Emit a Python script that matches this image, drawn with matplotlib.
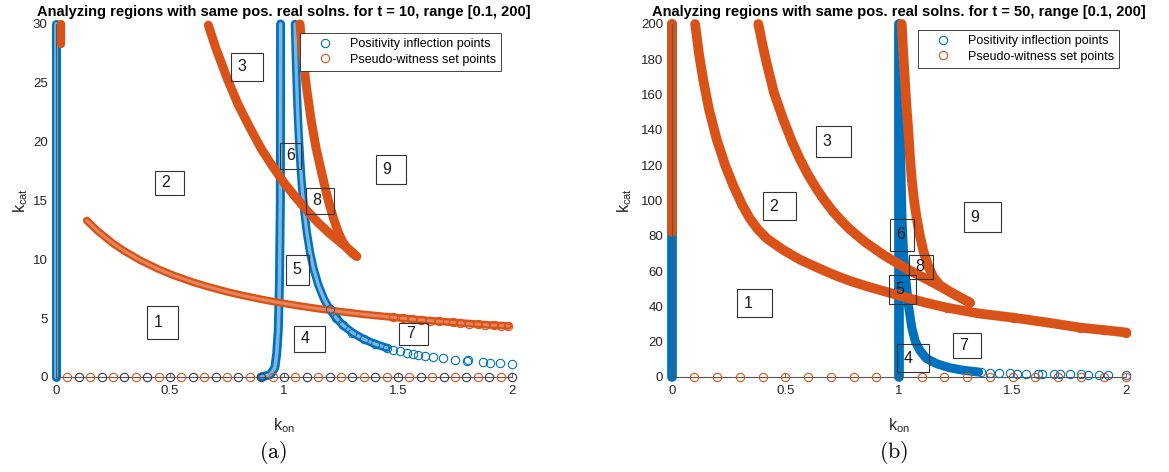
import numpy as np
import matplotlib.pyplot as plt
from matplotlib.patches import Rectangle
from matplotlib.lines import Line2D

plt.rcParams['font.family'] = ['Liberation Sans', 'DejaVu Sans']
plt.rcParams['mathtext.fontset'] = 'custom'
plt.rcParams['mathtext.rm'] = 'Liberation Sans'
plt.rcParams['mathtext.it'] = 'Liberation Sans:italic'

BLUE = '#0072BD'
ORANGE = '#D95319'
DARK = '#3a3a4e'

# ---------------- panel (a), t = 10 ----------------
a_blue_left_x = [0.0, 0.0]
a_blue_left_y = [0.0, 30.0]
a_orange_left_x = [0.02, 0.02]
a_orange_left_y = [28.3, 30.0]

a_blue_mid_x = [0.90, 0.94, 0.96, 0.968, 0.975, 0.98, 0.984, 0.985]
a_blue_mid_y = [0.0, 0.2, 0.8, 2.0, 4.0, 8.0, 15.0, 30.0]

a_blue_right_x = [1.048, 1.052, 1.056, 1.06, 1.065, 1.07, 1.075, 1.08, 1.09, 1.10,
                  1.115, 1.13, 1.15, 1.175, 1.20, 1.23, 1.26, 1.30, 1.35, 1.40, 1.45]
a_blue_right_y = [30.0, 27.0, 24.6, 22.5, 20.4, 18.7, 17.2, 15.9, 13.9, 12.3,
                  10.5, 9.19, 7.86, 6.65, 5.77, 4.98, 4.38, 3.77, 3.21, 2.80, 2.48]
a_blue_tail_x = [1.48, 1.509, 1.538, 1.567, 1.589, 1.618, 1.655, 1.699, 1.75, 1.801,
                 1.808, 1.871, 1.904, 1.947, 2.0]
a_blue_tail_y = [2.32, 2.18, 2.06, 1.96, 1.88, 1.79, 1.69, 1.58, 1.47, 1.38,
                 1.43, 1.26, 1.22, 1.16, 1.10]

a_orange_up_x = [0.668, 0.70, 0.75, 0.80, 0.85, 0.90, 0.95, 1.00, 1.05, 1.10,
                 1.15, 1.20, 1.25, 1.30, 1.319]
a_orange_up_y = [29.9, 28.0, 25.4, 23.1, 21.2, 19.4, 17.9, 16.5, 15.3, 14.15,
                 13.1, 12.2, 11.4, 10.6, 10.25]

a_orange_right_x = [1.07, 1.08, 1.09, 1.10, 1.12, 1.14, 1.16, 1.18, 1.20, 1.22,
                    1.24, 1.26, 1.28, 1.30, 1.319]
a_orange_right_y = [30.0, 27.9, 26.0, 24.4, 21.7, 19.5, 17.8, 16.1, 14.6, 13.3,
                    12.2, 11.4, 10.9, 10.5, 10.25]

a_orange_low_x = [0.135, 0.18, 0.25, 0.30, 0.368, 0.45, 0.515, 0.60, 0.661, 0.75,
                  0.807, 0.90, 0.953, 1.05, 1.143, 1.25, 1.35, 1.48, 1.52, 1.56,
                  1.60, 1.64, 1.68, 1.74, 1.77, 1.81, 1.85, 1.88, 1.92, 1.95, 1.984]
a_orange_low_y = [13.3, 12.45, 11.35, 10.7, 9.93, 9.16, 8.64, 8.06, 7.70, 7.24,
                  6.98, 6.60, 6.41, 6.09, 5.82, 5.55, 5.32, 5.07, 4.99, 4.92,
                  4.86, 4.79, 4.73, 4.64, 4.60, 4.54, 4.49, 4.45, 4.40, 4.37, 4.33]

a_zero_orange_x = [0.05, 0.15, 0.25, 0.35, 0.45, 0.55, 0.65, 0.75, 0.85, 0.95,
                   1.05, 1.15, 1.25, 1.35, 1.45, 1.55, 1.65, 1.75, 1.85, 1.95]
a_zero_dark_x = [0.1, 0.2, 0.3, 0.4, 0.5, 0.6, 0.7, 0.8, 0.9, 1.0,
                 1.1, 1.2, 1.3, 1.4, 1.5, 1.6, 1.7, 1.8, 1.9, 2.0]

# region labels: (label, x0, y0, width, height) in data units
a_regions = [('1', 0.40, 3.25, 0.136, 2.8), ('2', 0.434, 15.44, 0.129, 2.1),
             ('3', 0.768, 25.18, 0.141, 2.38), ('4', 1.045, 2.13, 0.135, 2.24),
             ('5', 1.007, 7.82, 0.103, 2.57), ('6', 0.982, 17.67, 0.091, 2.25),
             ('7', 1.506, 2.75, 0.127, 1.85), ('8', 1.096, 13.84, 0.125, 2.24),
             ('9', 1.402, 16.36, 0.133, 2.49)]

# ---------------- panel (b), t = 50 ----------------
b_blue_left_x = [0.0, 0.0]
b_blue_left_y = [0.0, 200.0]
b_orange_left_x = [0.0, 0.0]
b_orange_left_y = [82.0, 200.0]

b_blue_mid_x = [1.0, 1.0]
b_blue_mid_y = [0.0, 200.0]

b_blue_right_x = [1.0, 1.004, 1.008, 1.013, 1.02, 1.03, 1.042, 1.056, 1.072, 1.092,
                  1.12, 1.166, 1.22, 1.283, 1.35]
b_blue_right_y = [200.0, 160.0, 120.0, 90.0, 70.0, 55.0, 40.0, 28.0, 20.0, 15.0,
                  10.5, 7.5, 5.3, 3.8, 2.8]
b_blue_tail_x = [1.36, 1.40, 1.44, 1.49, 1.52, 1.56, 1.61, 1.63, 1.68, 1.71,
                 1.75, 1.80, 1.83, 1.88, 1.92, 2.0]
b_blue_tail_y = [2.6, 2.3, 2.2, 2.0, 1.9, 1.8, 1.7, 1.7, 1.6, 1.6,
                 1.5, 1.5, 1.4, 1.4, 1.3, 1.3]

b_orange_low_x = [0.103, 0.12, 0.139, 0.165, 0.198, 0.235, 0.271, 0.31, 0.344, 0.38,
                  0.418, 0.49, 0.564, 0.64, 0.711, 0.78, 0.858, 0.95, 1.034, 1.12,
                  1.21, 1.35, 1.503, 1.65, 1.796, 1.9, 2.0]
b_orange_low_y = [200.0, 183.0, 168.0, 151.0, 134.6, 120.0, 108.4, 97.5, 89.7, 83.5,
                  78.5, 72.0, 66.5, 62.0, 58.0, 54.6, 51.4, 48.0, 44.9, 42.0,
                  39.3, 36.0, 33.6, 30.9, 28.0, 26.6, 25.2]

b_orange_mid_x = [0.381, 0.40, 0.418, 0.45, 0.491, 0.53, 0.564, 0.60, 0.638, 0.675,
                  0.711, 0.75, 0.784, 0.85, 0.931, 1.0, 1.063, 1.13, 1.21, 1.26, 1.312]
b_orange_mid_y = [200.0, 188.0, 177.6, 161.0, 145.8, 133.0, 123.4, 114.5, 106.5, 99.5,
                  93.5, 88.0, 83.6, 76.5, 69.2, 63.8, 59.3, 54.8, 49.3, 45.7, 42.1]

b_orange_right_x = [1.012, 1.018, 1.026, 1.033, 1.041, 1.048, 1.056, 1.066, 1.078, 1.092,
                    1.107, 1.128, 1.151, 1.18, 1.224, 1.27, 1.312]
b_orange_right_y = [200.0, 185.0, 168.0, 153.0, 140.0, 125.0, 112.0, 100.0, 89.7, 80.0,
                    71.5, 63.0, 56.5, 52.0, 48.2, 45.0, 42.1]

b_zero_orange_x = [0.1, 0.2, 0.3, 0.4, 0.5, 0.6, 0.7, 0.8, 0.9,
                   1.1, 1.2, 1.3, 1.4, 1.5, 1.6, 1.7, 1.8, 1.9, 2.0]

b_regions = [('1', 0.289, 33.8, 0.154, 15.8), ('2', 0.400, 88.8, 0.146, 15.9),
             ('3', 0.635, 124.7, 0.152, 17.4), ('4', 0.990, 2.8, 0.143, 15.9),
             ('5', 0.957, 41.2, 0.118, 16.8), ('6', 0.960, 71.4, 0.107, 18.3),
             ('7', 1.236, 10.9, 0.125, 13.8), ('8', 1.045, 55.5, 0.106, 13.7),
             ('9', 1.287, 81.9, 0.162, 17.2)]


def band(ax, x, y, color, lw, inner=None):
    ax.plot(x, y, color=color, lw=lw, solid_capstyle='round',
            solid_joinstyle='round', clip_on=False, zorder=2)
    if inner is not None:
        ax.plot(x, y, color=inner, lw=lw * 0.4, solid_capstyle='round',
                solid_joinstyle='round', clip_on=False, zorder=2)


def circles(ax, x, y, color, zorder=3):
    ax.plot(x, y, 'o', ms=6, mfc='none', mec=color, mew=0.8,
            clip_on=False, zorder=zorder)


def style_axes(ax, ymax, yticks, title, ylab_x):
    ax.set_xlim(0, 2)
    ax.set_ylim(0, ymax)
    ax.set_xticks([0, 0.5, 1, 1.5, 2])
    ax.set_xticklabels(['0', '0.5', '1', '1.5', '2'])
    ax.set_yticks(yticks)
    for s in ['top', 'right']:
        ax.spines[s].set_visible(False)
    for s in ['left', 'bottom']:
        ax.spines[s].set_color('#555555')
        ax.spines[s].set_linewidth(0.8)
    ax.tick_params(direction='in', length=3, width=0.6, colors='#555555',
                   labelcolor='#262626', labelsize=9.5, pad=6)
    ax.set_title(title, fontsize=10.5, fontweight='bold', pad=5.8)
    ax.set_xlabel(r'$\mathrm{k_{on}}$', fontsize=11.5, color='#262626')
    ax.set_ylabel(r'$\mathrm{k_{cat}}$', fontsize=11.5, color='#262626')
    ax.xaxis.set_label_coords(0.5, -0.11)
    ax.yaxis.set_label_coords(ylab_x, 0.5)


def region_boxes(ax, regions, dx):
    for lab, x0, y0, w, h in regions:
        ax.add_patch(Rectangle((x0, y0), w, h, fill=False, ec='#333333',
                               lw=0.8, zorder=5, clip_on=False))
        ax.text(x0 + dx, y0 + h / 2, lab, fontsize=11.5, ha='center',
                va='center', color='#1a1a1a', zorder=6)


fig = plt.figure(figsize=(11.69, 4.72), dpi=100)
ax_a = fig.add_axes([0.0479, 0.2013, 0.3901, 0.7479])
ax_b = fig.add_axes([0.5746, 0.2013, 0.3889, 0.7479])

# panel (a)
light_blue = '#7fb4de'
light_orange = '#e7845a'
band(ax_a, a_blue_left_x, a_blue_left_y, BLUE, 6.5, light_blue)
band(ax_a, a_blue_mid_x, a_blue_mid_y, BLUE, 6.5, light_blue)
band(ax_a, a_blue_right_x, a_blue_right_y, BLUE, 6.0, light_blue)
circles(ax_a, a_blue_right_x[14:], a_blue_right_y[14:], BLUE)
circles(ax_a, a_blue_tail_x, a_blue_tail_y, BLUE)
band(ax_a, a_orange_left_x, a_orange_left_y, ORANGE, 6.0)
band(ax_a, a_orange_low_x, a_orange_low_y, ORANGE, 5.5, light_orange)
circles(ax_a, a_orange_low_x[17:], a_orange_low_y[17:], ORANGE)
band(ax_a, a_orange_up_x, a_orange_up_y, ORANGE, 6.5)
band(ax_a, a_orange_right_x, a_orange_right_y, ORANGE, 6.5)
circles(ax_a, a_zero_orange_x, np.zeros(len(a_zero_orange_x)), ORANGE)
circles(ax_a, a_zero_dark_x, np.zeros(len(a_zero_dark_x)), DARK)
region_boxes(ax_a, a_regions, 0.048)
style_axes(ax_a, 30, [0, 5, 10, 15, 20, 25, 30],
           'Analyzing regions with same pos. real solns. for t = 10, range [0.1, 200]',
           -0.056)

# panel (b)
band(ax_b, b_blue_left_x, b_blue_left_y, BLUE, 7.0)
band(ax_b, b_blue_mid_x, b_blue_mid_y, BLUE, 7.0)
band(ax_b, b_blue_right_x, b_blue_right_y, BLUE, 6.5)
circles(ax_b, b_blue_tail_x, b_blue_tail_y, BLUE)
band(ax_b, b_orange_left_x, b_orange_left_y, ORANGE, 7.0)
band(ax_b, b_orange_low_x, b_orange_low_y, ORANGE, 7.0)
circles(ax_b, b_orange_low_x[20:], b_orange_low_y[20:], ORANGE)
band(ax_b, b_orange_mid_x, b_orange_mid_y, ORANGE, 7.0)
band(ax_b, b_orange_right_x, b_orange_right_y, ORANGE, 7.0)
circles(ax_b, b_zero_orange_x, np.zeros(len(b_zero_orange_x)), ORANGE)
region_boxes(ax_b, b_regions, 0.048)
style_axes(ax_b, 200, list(range(0, 201, 20)),
           'Analyzing regions with same pos. real solns. for t = 50, range [0.1, 200]',
           -0.082)

handles = [Line2D([], [], ls='none', marker='o', ms=6, mfc='none', mec=BLUE, mew=0.8),
           Line2D([], [], ls='none', marker='o', ms=6, mfc='none', mec=ORANGE, mew=0.8)]
labels = ['Positivity inflection points', 'Pseudo-witness set points']
for right, top in [(501 / 1169, 1 - 33 / 472), (1119 / 1169, 1 - 30 / 472)]:
    leg = fig.legend(handles, labels, loc='upper right', bbox_to_anchor=(right, top),
                     bbox_transform=fig.transFigure, fontsize=9, frameon=True,
                     fancybox=False, framealpha=1, edgecolor='#262626',
                     borderaxespad=0, handlelength=3.2, handletextpad=0.4,
                     labelspacing=0.3, borderpad=0.4)
    leg.get_frame().set_linewidth(0.6)
    leg.set_zorder(10)

fig.text(273 / 1169, 1 - 452 / 472, r'$\mathrm{(a)}$', math_fontfamily='cm',
         fontsize=16, ha='center', va='center')
fig.text(894 / 1169, 1 - 452 / 472, r'$\mathrm{(b)}$', math_fontfamily='cm',
         fontsize=16, ha='center', va='center')

fig.savefig('out.png', dpi=100)
